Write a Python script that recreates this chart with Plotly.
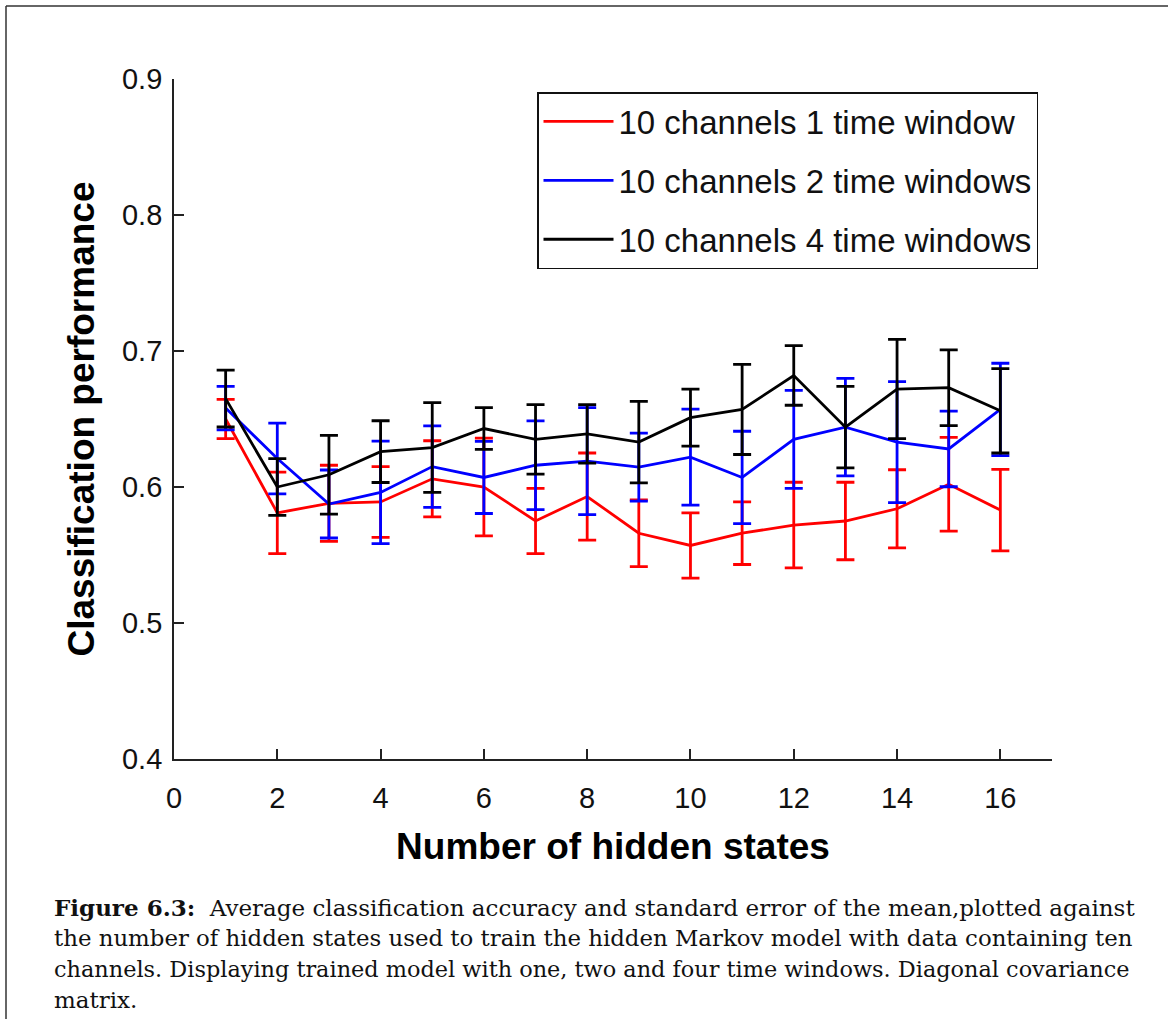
import plotly.graph_objects as go

# Number of hidden states used to train the HMM
states = list(range(1, 17))

# Mean classification performance and standard error of the mean
red_mean = [0.650, 0.581, 0.588, 0.589, 0.606, 0.600, 0.575, 0.593,
            0.566, 0.557, 0.566, 0.572, 0.575, 0.584, 0.602, 0.583]
red_sem = [0.0145, 0.030, 0.028, 0.026, 0.028, 0.036, 0.024, 0.032,
           0.0245, 0.024, 0.023, 0.0315, 0.0285, 0.0287, 0.0345, 0.030]

blue_mean = [0.658, 0.621, 0.5875, 0.596, 0.615, 0.607, 0.616, 0.619,
             0.6146, 0.622, 0.607, 0.635, 0.644, 0.633, 0.628, 0.657]
blue_sem = [0.016, 0.026, 0.025, 0.0377, 0.030, 0.0265, 0.0326, 0.0393,
            0.025, 0.0353, 0.034, 0.036, 0.0358, 0.0445, 0.0278, 0.034]

black_mean = [0.665, 0.600, 0.609, 0.626, 0.629, 0.643, 0.635, 0.639,
              0.633, 0.651, 0.657, 0.682, 0.644, 0.672, 0.673, 0.656]
black_sem = [0.0209, 0.0208, 0.029, 0.0227, 0.033, 0.0154, 0.0255, 0.0215,
             0.030, 0.021, 0.0331, 0.0219, 0.030, 0.0365, 0.0278, 0.031]

series_names = ["10 channels 1 time window",
                "10 channels 2 time windows",
                "10 channels 4 time windows"]
series_colors = ["#ff0000", "#0000ff", "#000000"]

x_ticks = list(range(0, 17, 2))
y_ticks = [0.4, 0.5, 0.6, 0.7, 0.8, 0.9]

caption_lines = [
    "<b>Figure 6.3:</b>  Average classification accuracy and standard error of the mean,plotted against",
    "the number of hidden states used to train the hidden Markov model with data containing ten",
    "channels. Displaying trained model with one, two and four time windows. Diagonal covariance",
    "matrix.",
]
# per-line font sizes so the first three lines fill the text block width
caption_sizes = [23.0, 22.85, 22.4, 23.0]

W, H = 1168, 1019
L, R, T, B = 174, 116, 79, 260
pw, ph = W - L - R, H - T - B


def px(x):
    return (x - L) / pw


def py(y):
    return (H - B - y) / ph


fig = go.Figure()
for i, (m, s) in enumerate([(red_mean, red_sem), (blue_mean, blue_sem),
                            (black_mean, black_sem)]):
    fig.add_trace(go.Scatter(
        x=states, y=m, mode="lines", name=series_names[i],
        legendgroup=f"g{i}",
        line=dict(color=series_colors[i], width=2.8),
        error_y=dict(type="data", array=s, visible=True,
                     color=series_colors[i], thickness=2.8, width=9),
    ))

axis_font = dict(family="Liberation Sans, Arial, sans-serif", size=29, color="#111")
title_font = dict(family="Liberation Sans, Arial, sans-serif", size=37, color="#000")

fig.update_layout(
    width=W, height=H,
    margin=dict(l=L, r=R, t=T, b=B),
    paper_bgcolor="white", plot_bgcolor="white",
    xaxis=dict(range=[0, 17], tickvals=x_ticks, ticks="inside", ticklen=10,
               tickwidth=1.5, tickcolor="#222", showline=True, linecolor="#222",
               linewidth=1.8, showgrid=False, zeroline=False,
               tickfont=axis_font, ticklabelstandoff=12,
               title=dict(text="<b>Number of hidden states</b>", font=title_font,
                          standoff=20)),
    yaxis=dict(range=[0.4, 0.9], tickvals=y_ticks, tickformat=".1f",
               ticks="inside", ticklen=10, tickwidth=1.5, tickcolor="#222",
               showline=True, linecolor="#222", linewidth=1.8, showgrid=False,
               zeroline=False, tickfont=axis_font, ticklabelstandoff=4,
               title=dict(text="<b>Classification performance</b>",
                          font=title_font, standoff=16)),
    legend=dict(x=px(537), y=py(92), xanchor="left", yanchor="top",
                bordercolor="#111", borderwidth=1.5, bgcolor="white",
                font=dict(family="Liberation Sans, Arial, sans-serif", size=33,
                          color="#111"),
                tracegroupgap=13, itemwidth=70),
    showlegend=True,
)

# Outer frame (top and left edges)
fig.add_shape(type="line", xref="paper", yref="paper",
              x0=px(6), y0=py(6), x1=px(W + 5), y1=py(6),
              line=dict(color="#333", width=1.5))
fig.add_shape(type="line", xref="paper", yref="paper",
              x0=px(6), y0=py(6), x1=px(6), y1=py(H + 5),
              line=dict(color="#333", width=1.5))

# Figure caption
for k, line in enumerate(caption_lines):
    fig.add_annotation(text=line, xref="paper", yref="paper",
                       x=px(52), y=py(907 + 31 * k), xanchor="left",
                       yanchor="middle", showarrow=False, align="left",
                       font=dict(family="DejaVu Serif, serif",
                                 size=caption_sizes[k], color="#111"))

fig.write_html("out.html")
